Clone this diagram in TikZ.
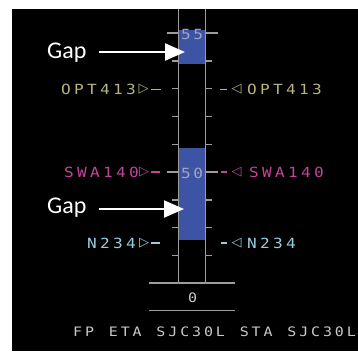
\documentclass[tikz,border=0pt]{standalone}
\usepackage{fontspec}
\usetikzlibrary{arrows.meta}
\newfontfamily\dispfont[FakeStretch=1.15]{DejaVu Sans Mono}
\newfontfamily\symfont{DejaVu Sans}
\newfontfamily\gapfont{Carlito}
\definecolor{gridgrey}{HTML}{9C9C9C}
\definecolor{boxblue}{HTML}{3D53A4}
\definecolor{optcol}{HTML}{B8B57C}
\definecolor{swacol}{HTML}{C4449C}
\definecolor{ncol}{HTML}{94CFE0}
\definecolor{numcol}{HTML}{A0A6C4}
\definecolor{txtcol}{HTML}{C8C8C8}
\ExplSyntaxOn
\NewDocumentCommand\pitched{mm}{\str_map_inline:nn {#2} {\makebox[#1][l]{##1}}}
\ExplSyntaxOff
\tikzset{
  gridline/.style={draw=gridgrey, line width=1.4pt},
  lbl/.style={inner sep=0pt, anchor=base west, font=\fontsize{14pt}{14pt}\selectfont\dispfont},
  smalltxt/.style={inner sep=0pt, anchor=base west, font=\fontsize{13pt}{13pt}\selectfont\dispfont},
  numtxt/.style={inner sep=0pt, anchor=base west, font=\fontsize{14pt}{14pt}\selectfont\dispfont},
  tri/.style={inner sep=0pt, font=\fontsize{13pt}{13pt}\selectfont\symfont},
  dashseg/.style={line width=1.5pt},
  gaptext/.style={inner sep=0pt, text=white, font=\fontsize{24pt}{24pt}\selectfont\gapfont},
  gaparrow/.style={draw=white, line width=2.2pt, -{Triangle[length=20pt,width=17pt]}}
}
\begin{document}
\begin{tikzpicture}[x=1pt,y=-1pt]
\useasboundingbox (0,0) rectangle (358,351);
\fill[black] (12,9) rectangle (358,351);
% gap boxes
\fill[boxblue] (179.2,30) rectangle (204.8,64);
\fill[boxblue] (179.2,148) rectangle (204.8,240);
% timeline
\draw[gridline] (178.5,9) -- (178.5,283);
\draw[gridline] (205.5,9) -- (205.5,283);
\foreach \k in {1,2,3,4,6,7,8}{
  \draw[gridline] (172,{33+\k*27.8}) -- (178.5,{33+\k*27.8});
  \draw[gridline] (205.5,{33+\k*27.8}) -- (212,{33+\k*27.8});
}
\foreach \yy in {33,172}{
  \draw[gridline] (167,\yy) -- (178.5,\yy);
  \draw[gridline] (205.5,\yy) -- (218,\yy);
}
\draw[gridline] (149,283) -- (235,283);
\draw[gridline] (149,310.5) -- (235,310.5);
% time numbers
\node[numtxt, text=numcol] (t55) at (181,39.5) {\pitched{12.3pt}{55}};
\node[numtxt, text=numcol] (t50) at (181,178) {\pitched{12.3pt}{50}};
\node[smalltxt, text=txtcol] (t0) at (188,302) {0};
% OPT413
\node[lbl, text=optcol] (optl) at (61,94.5) {\pitched{13pt}{OPT413}};
\node[tri, text=optcol] (optlt) at (143.5,89.5) {▷};
\draw[dashseg, draw=optcol] (150.5,89.5) -- (161,89.5);
\draw[dashseg, draw=optcol] (220,89.5) -- (227,89.5);
\node[tri, text=optcol] (optrt) at (236.5,89.5) {◁};
\node[lbl, text=optcol] (optr) at (247,94.5) {\pitched{13pt}{OPT413}};
% SWA140
\node[lbl, text=swacol] (swal) at (64,177) {\pitched{13pt}{SWA140}};
\node[tri, text=swacol] (swalt) at (144,172) {▷};
\draw[dashseg, draw=swacol] (151,172) -- (160,172);
\draw[dashseg, draw=swacol] (221,172) -- (227,172);
\node[tri, text=swacol] (swart) at (236.5,172) {◁};
\node[lbl, text=swacol] (swar) at (249,177) {\pitched{13pt}{SWA140}};
% N234
\node[lbl, text=ncol] (nl) at (87,248) {\pitched{13pt}{N234}};
\node[tri, text=ncol] (nlt) at (144,243) {▷};
\draw[dashseg, draw=ncol] (151,243) -- (160,243);
\draw[dashseg, draw=ncol] (221,243) -- (227,243);
\node[tri, text=ncol] (nrt) at (236.5,243) {◁};
\node[lbl, text=ncol] (nr) at (247,248) {\pitched{13pt}{N234}};
% bottom line
\node[smalltxt, text=txtcol] (fpline) at (73,336) {\pitched{11.9pt}{FP ETA SJC30L STA SJC30L}};
% Gap arrows
\node[gaptext, anchor=base west] (gap1) at (47,58) {Gap};
\coordinate (gap1tip) at (185,52);
\draw[gaparrow, shorten <=12pt] (gap1.east |- gap1tip) -- (gap1tip);
\node[gaptext, anchor=base west] (gap2) at (47,213) {Gap};
\coordinate (gap2tip) at (184,209);
\draw[gaparrow, shorten <=12pt] (gap2.east |- gap2tip) -- (gap2tip);
\end{tikzpicture}
\end{document}
